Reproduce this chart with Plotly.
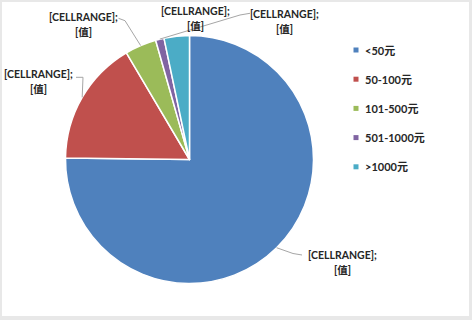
import math
import plotly.graph_objects as go

# ---- data ----
categories = ["<50元", "50-100元", "101-500元", "501-1000元", ">1000元"]
shares = [75.2, 16.3, 4.1, 1.1, 3.3]
colors = ["#4F81BD", "#C0504D", "#9BBB59", "#8064A2", "#4BACC6"]
label_lines = ["[CELLRANGE];", "[值]"]

# ---- layout constants (pixels, y measured downward) ----
W, H = 472, 320
CX, CY, R = 189.5, 159.5, 124
label_pos = [(342, 262.5), (38, 81.5), (83, 24.5), (284, 21), (195, 19)]
line_gap = 15
leader_tail = [
    [(293, 253.5), (302, 255)],
    [(83, 77.3), (76, 77.3)],
    [(125, 20.7), (118.5, 18.3)],
    [(240, 15), (250, 13.3)],
    None,
]
legend_x_sq, legend_x_txt, legend_y0, legend_dy = 356, 363, 50, 29.2
FONT = "Lato, 'Noto Sans CJK SC', sans-serif"
TXT = "#262626"


def fx(x):
    return x / W


def fy(y):
    return 1 - y / H


fig = go.Figure()
fig.add_trace(go.Pie(
    labels=categories, values=shares, sort=False, direction="clockwise",
    rotation=0, textinfo="none", hoverinfo="label+percent",
    marker=dict(colors=colors, line=dict(color="white", width=1.5)),
    domain=dict(x=[fx(CX - R), fx(CX + R)], y=[fy(CY + R), fy(CY - R)]),
    showlegend=False,
))

shapes = [dict(type="rect", xref="paper", yref="paper", x0=fx(2), x1=fx(469),
               y0=fy(316), y1=fy(2), fillcolor="white", line=dict(width=0),
               layer="below")]
annotations = []

total = sum(shares)
cum = 0.0
for i, v in enumerate(shares):
    a0 = cum / total * 360
    cum += v
    a1 = cum / total * 360
    mid = math.radians((a0 + a1) / 2)
    ex = CX + R * math.sin(mid)
    ey = CY - R * math.cos(mid)
    lx, ly = label_pos[i]
    n = len(label_lines)
    for k, line in enumerate(label_lines):
        yy = ly + (k - (n - 1) / 2) * line_gap
        annotations.append(dict(
            x=fx(lx), y=fy(yy), xref="paper", yref="paper",
            text=f"<b>{line}</b>",
            showarrow=False, xanchor="center", yanchor="middle",
            font=dict(family=FONT, size=10.5, color=TXT),
        ))
    if leader_tail[i]:
        pts = [(ex, ey)] + leader_tail[i]
        path = "M " + " L ".join(f"{fx(px)},{fy(py)}" for px, py in pts)
        shapes.append(dict(type="path", xref="paper", yref="paper", path=path,
                           line=dict(color="#A6A6A6", width=1)))

# manual legend
for i, (cat, col) in enumerate(zip(categories, colors)):
    yy = legend_y0 + legend_dy * i
    shapes.append(dict(type="rect", xref="paper", yref="paper",
                       x0=fx(legend_x_sq - 2.5), x1=fx(legend_x_sq + 2.5),
                       y0=fy(yy + 2.5), y1=fy(yy - 2.5),
                       fillcolor=col, line=dict(width=0)))
    annotations.append(dict(
        x=fx(legend_x_txt), y=fy(yy), xref="paper", yref="paper",
        text=f"<b>{cat}</b>",
        showarrow=False, xanchor="left", yanchor="middle",
        font=dict(family=FONT, size=11, color=TXT),
    ))

fig.update_layout(
    width=W, height=H, margin=dict(l=0, r=0, t=0, b=0),
    paper_bgcolor="#E8E8E8", plot_bgcolor="white",
    shapes=shapes, annotations=annotations, showlegend=False,
    font=dict(family=FONT),
)
fig.write_html("out.html", config={"displayModeBar": False},
               post_script="document.body.style.margin='0';document.body.style.overflow='hidden';")
